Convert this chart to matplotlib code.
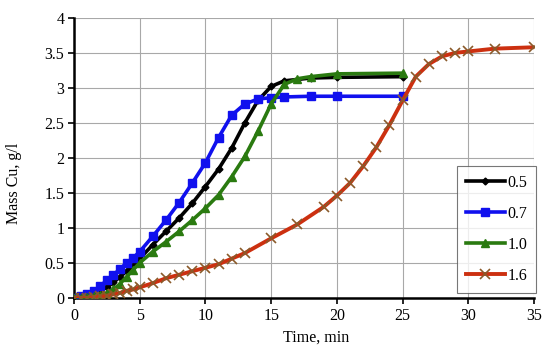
import matplotlib
matplotlib.use("Agg")
import matplotlib.pyplot as plt
from matplotlib.ticker import FuncFormatter, MultipleLocator

# Data
t_05 = [0, 0.5, 1, 1.5, 2, 2.5, 3, 3.5, 4, 4.5, 5, 6, 7, 8, 9, 10, 11, 12, 13, 14, 15, 16, 18, 20, 25]
v_05 = [0, 0.01, 0.03, 0.06, 0.1, 0.15, 0.22, 0.3, 0.38, 0.46, 0.56, 0.76, 0.95, 1.14, 1.35, 1.59,
        1.84, 2.14, 2.5, 2.82, 3.02, 3.1, 3.14, 3.15, 3.16]

t_07 = [0, 0.5, 1, 1.5, 2, 2.5, 3, 3.5, 4, 4.5, 5, 6, 7, 8, 9, 10, 11, 12, 13, 14, 15, 16, 18, 20, 25]
v_07 = [0, 0.02, 0.05, 0.1, 0.17, 0.25, 0.33, 0.41, 0.5, 0.57, 0.66, 0.88, 1.11, 1.36, 1.64, 1.93,
        2.29, 2.61, 2.77, 2.84, 2.86, 2.87, 2.88, 2.88, 2.88]

t_10 = [0, 0.5, 1, 1.5, 2, 2.5, 3, 3.5, 4, 4.5, 5, 6, 7, 8, 9, 10, 11, 12, 13, 14, 15, 16, 17, 18, 20, 25]
v_10 = [0, 0, 0.01, 0.02, 0.04, 0.07, 0.12, 0.2, 0.3, 0.4, 0.5, 0.66, 0.8, 0.95, 1.11, 1.28, 1.47,
        1.73, 2.02, 2.38, 2.77, 3.05, 3.13, 3.16, 3.2, 3.21]

t_16 = [0, 0.5, 1, 1.5, 2, 2.5, 3, 3.5, 4, 4.5, 5, 6, 7, 8, 9, 10, 11, 12, 13, 15, 17, 19, 20, 21,
        22, 23, 24, 25, 26, 27, 28, 29, 30, 32, 35]
v_16 = [0, 0, 0, 0.01, 0.02, 0.03, 0.05, 0.07, 0.1, 0.12, 0.15, 0.21, 0.28, 0.33, 0.38, 0.43, 0.48,
        0.56, 0.64, 0.85, 1.05, 1.3, 1.46, 1.64, 1.88, 2.15, 2.47, 2.82, 3.16, 3.34, 3.45, 3.5,
        3.52, 3.56, 3.58]

labels = ["0.5", "0.7", "1.0", "1.6"]
x_ticks = [0, 5, 10, 15, 20, 25, 30, 35]

plt.rcParams['font.family'] = ['Liberation Serif', 'DejaVu Serif']

fig = plt.figure(figsize=(5.5, 3.5), dpi=100)
ax = fig.add_axes([0.1345, 0.149, 0.8365, 0.8])

ax.plot(t_05, v_05, color='black', lw=2.6, marker='D', ms=3.5, label=labels[0], zorder=3)
ax.plot(t_07, v_07, color='#1010ee', lw=2.6, marker='s', ms=6, label=labels[1], zorder=4)
ax.plot(t_10, v_10, color='#2a7a10', lw=2.6, marker='^', ms=5.5, label=labels[2], zorder=5)
ax.plot(t_16, v_16, color='#cc3010', lw=2.8, marker='x', ms=7, mew=1.2,
        mec='#8a5a2a', label=labels[3], zorder=6)

ax.set_xlim(0, 35)
ax.set_ylim(0, 4)
ax.set_xticks(x_ticks)
ax.yaxis.set_major_locator(MultipleLocator(0.5))
ax.yaxis.set_major_formatter(FuncFormatter(lambda v, p: f"{v:g}"))
ax.grid(True, color='#a8a8a8', lw=0.8)
ax.set_axisbelow(True)

for s in ['top', 'right']:
    ax.spines[s].set_visible(False)
for s in ['left', 'bottom']:
    ax.spines[s].set_linewidth(1.8)
ax.tick_params(direction='out', length=4, width=1.2, labelsize=11.5, colors='black', pad=3)

ax.set_xlabel("Time, min", fontsize=11.5)
ax.set_ylabel("Mass Cu, g/l", fontsize=11.5)
ax.xaxis.set_label_coords(0.526, -0.112)
ax.yaxis.set_label_coords(-0.113, 0.41)

leg = ax.legend(loc='lower right', bbox_to_anchor=(1.004, 0.018), borderaxespad=0,
                fontsize=11.5, frameon=True, fancybox=False, edgecolor='#555555',
                labelspacing=0.95, handlelength=2.45, handletextpad=0.15, borderpad=0.55)
leg.get_frame().set_linewidth(0.8)

fig.savefig("out.png", dpi=100)
